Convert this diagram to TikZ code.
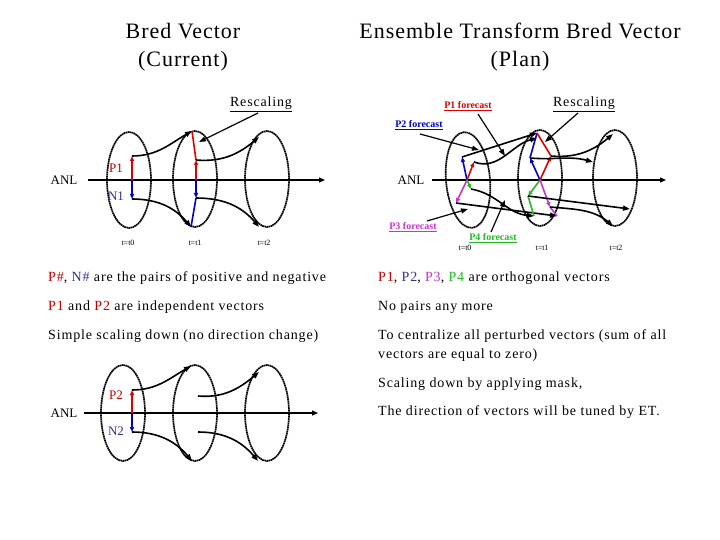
\documentclass[tikz,border=0pt]{standalone}
\usepackage{fontspec}
\setmainfont{Liberation Serif}
\newfontfamily\spaced[LetterSpace=6]{Liberation Serif}
\newfontfamily\spacedt[LetterSpace=4.5]{Liberation Serif}
\usetikzlibrary{shapes.geometric,arrows.meta}
\definecolor{pr}{HTML}{C00000}
\definecolor{pb}{HTML}{333399}
\definecolor{vr}{HTML}{E00000}
\definecolor{vb}{HTML}{0000CC}
\definecolor{vm}{HTML}{CC33CC}
\definecolor{vg}{HTML}{22BB22}
\begin{document}
\begin{tikzpicture}[x=1pt,y=-1pt,
 ell/.style={draw,ellipse,line width=1.7pt,dash pattern=on 1.6pt off 0.5pt,minimum width=44pt,minimum height=96pt,inner sep=0},
 axis/.style={line width=1.3pt,-{Triangle[length=6pt,width=5pt]}},
 traj/.style={line width=1.6pt,-{Triangle[length=7pt,width=5pt]}},
 vec/.style={line width=1.6pt,-{Triangle[length=5pt,width=4pt]}},
 lab/.style={font=\fontsize{13}{15}\selectfont,inner sep=0},
 small/.style={font=\fontsize{8}{9}\selectfont,inner sep=0},
 title/.style={font=\spacedt\fontsize{22}{25}\selectfont,inner sep=0},
 body/.style={font=\spaced\fontsize{14}{19}\selectfont,inner sep=0,anchor=west,align=left},
 fc/.style={font=\bfseries\fontsize{10}{12}\selectfont,inner sep=1pt},
 call/.style={line width=1.2pt,-{Triangle[length=7pt,width=5pt]}}]
\useasboundingbox (0,0) rectangle (720,540);
% titles
\node[title] (t1a) at (183,31) {Bred Vector};
\node[title] (t1b) at (183,61) {(Current)};
\node[title] (t2a) at (520,31) {Ensemble Transform Bred Vector};
\node[title] (t2b) at (520,61) {(Plan)};
% ---------- left diagram
\node[ell] (e1) at (129,180) {};
\node[ell] (e2) at (195,179) {};
\node[ell] (e3) at (267,179) {};
\node[lab] (anl1) at (64,180) {ANL};
\coordinate (ax1s) at (88,180); \coordinate (ax1e) at (325,180);
\draw[axis] (ax1s) -- (ax1e);
\coordinate (o1) at (132,180); \coordinate (p1) at (132,156); \coordinate (n1) at (132,199);
\draw[vec,vr] (o1) -- (p1); \draw[vec,vb] (o1) -- (n1);
\node[lab,pr] (lp1) at (116,168) {P1};
\node[lab,pb] (ln1) at (116,196) {N1};
\coordinate (q1) at (192,131); \coordinate (m1) at (191,227);
\draw[traj] (p1) to[out=0,in=-150] (q1);
\draw[traj] (n1) to[out=0,in=130] (m1);
\coordinate (o2) at (196,180); \coordinate (p2) at (196,160); \coordinate (n2) at (196,198);
\draw[line width=1.6pt,vr] (q1) -- (p2);
\draw[line width=1.6pt,vb] (m1) -- (n2);
\draw[vec,vr] (o2) -- (p2); \draw[vec,vb] (o2) -- (n2);
\coordinate (q2) at (259,137); \coordinate (m2) at (259,227);
\draw[traj] (p2) to[out=-5,in=-140] (q2);
\draw[traj] (n2) to[out=0,in=130] (m2);
\node[lab,font=\spaced\fontsize{14}{16}\selectfont] (rs1) at (261,104) {\underline{Rescaling}};
\coordinate (rs1t) at (199,142);
\draw[call] (258,113) -- (rs1t);
\node[small] (tt0) at (128,243) {t=t0};
\node[small] (tt1) at (195,243) {t=t1};
\node[small] (tt2) at (264,243) {t=t2};
% ---------- right diagram
\node[ell,rotate=5] (f1) at (468,180) {};
\node[ell] (f2) at (540,178) {};
\node[ell] (f3) at (615,178) {};
\node[lab] (anl2) at (411,180) {ANL};
\coordinate (ax2s) at (432,180); \coordinate (ax2e) at (666,180);
\draw[axis] (ax2s) -- (ax2e);
\coordinate (r0) at (467,180);
\coordinate (rb) at (462,157); \coordinate (rr) at (474,162);
\coordinate (rm) at (456,203); \coordinate (rg) at (471,189);
\draw[vec,vb] (r0) -- (rb); \draw[vec,vr] (r0) -- (rr);
\draw[vec,vm] (r0) -- (rm); \draw[vec,vg] (r0) -- (rg);
% forecasts t0->t1
\coordinate (fb) at (537,133); \coordinate (fr) at (537,138);
\coordinate (fm) at (557,216); \coordinate (fgp) at (534,216);
\draw[traj] (rb) -- (fb);
\draw[traj] (rr) to[out=-20,in=-165] (fr);
\draw[traj] (rm) -- (fm);
\draw[traj] (rg) to[out=-10,in=175] (fgp);
\coordinate (s0) at (540,180);
\coordinate (sb) at (530,158); \coordinate (sr) at (551,156);
\coordinate (sg) at (528,196); \coordinate (sm) at (550,207);
\draw[line width=1.6pt,vb] (fb) -- (sb);
\draw[line width=1.6pt,vr] (fb) -- (sr);
\draw[line width=1.6pt,vg] (fgp) -- (sg);
\draw[line width=1.6pt,vm] (fm) -- (sm);
\draw[vec,vb] (s0) -- (sb); \draw[vec,vr] (s0) -- (sr);
\draw[vec,vg] (s0) -- (sg); \draw[vec,vm] (s0) -- (sm);
% t1->t2
\coordinate (gb) at (593,162); \coordinate (gr) at (613,134);
\coordinate (gg) at (630,209); \coordinate (gm) at (613,226);
\draw[traj] (sb) to[out=-5,in=165] (gb);
\draw[traj] (sr) to[out=-5,in=-140] (gr);
\draw[traj] (sg) -- (gg);
\draw[traj] (sm) to[out=-5,in=140] (gm);
% callouts
\node[fc,vr] (lf1) at (468,106) {\underline{P1 forecast}};
\node[fc,vb] (lf2) at (419,125) {\underline{P2 forecast}};
\node[fc,vm] (lf3) at (413,227) {\underline{P3 forecast}};
\node[fc,vg] (lf4) at (493,238) {\underline{P4 forecast}};
\coordinate (c1) at (505,156); \coordinate (c2) at (479,150);
\coordinate (c3) at (468,209); \coordinate (c4) at (505,200);
\draw[call] (478,114) -- (c1);
\draw[call] (420,134) -- (c2);
\draw[call] (427,221) -- (c3);
\draw[call] (491,232) -- (c4);
\node[lab,font=\spaced\fontsize{14}{16}\selectfont] (rs2) at (584,104) {\underline{Rescaling}};
\coordinate (rs2t) at (545,142);
\draw[call] (578,113) -- (rs2t);
\node[small] (ut0) at (465,248) {t=t0};
\node[small] (ut1) at (542,248) {t=t1};
\node[small] (ut2) at (616,248) {t=t2};
% ---------- texts
\node[body] (b1) at (48,278) {\textcolor{pr}{P\#}, \textcolor{pb}{N\#} are the pairs of positive and negative};
\node[body] (b2) at (48,307) {\textcolor{pr}{P1} and \textcolor{pr}{P2} are independent vectors};
\node[body] (b3) at (48,336) {Simple scaling down (no direction change)};
\node[body] (c1t) at (378,278) {\textcolor{pr}{P1}, \textcolor{pb}{P2}, \textcolor{vm}{P3}, \textcolor{vg}{P4} are orthogonal vectors};
\node[body] (c2t) at (378,307) {No pairs any more};
\node[body] (c3t) at (378,345.5) {To centralize all perturbed vectors (sum of all\\vectors are equal to zero)};
\node[body] (c4t) at (378,384) {Scaling down by applying mask,};
\node[body] (c5t) at (378,412) {The direction of vectors will be tuned by ET.};
% ---------- bottom-left diagram
\node[ell] (h1) at (123,413) {};
\node[ell] (h2) at (195,413) {};
\node[ell] (h3) at (267,413) {};
\node[lab] (anl3) at (64,413) {ANL};
\coordinate (ax3s) at (84,413); \coordinate (ax3e) at (318,413);
\draw[axis] (ax3s) -- (ax3e);
\coordinate (w0) at (132,413); \coordinate (wp) at (132,390); \coordinate (wn) at (132,432);
\draw[vec,vr] (w0) -- (wp); \draw[vec,vb] (w0) -- (wn);
\node[lab,pr] (lp2) at (116,395) {P2};
\node[lab,pb] (ln2) at (116,431) {N2};
\coordinate (wq) at (191,366); \coordinate (wm) at (192,461);
\draw[traj] (wp) to[out=0,in=-150] (wq);
\draw[traj] (wn) to[out=0,in=130] (wm);
\coordinate (wp2) at (198,396); \coordinate (wn2) at (198,432);
\coordinate (wq2) at (259,372); \coordinate (wm2) at (258,461);
\draw[traj] (wp2) to[out=-5,in=-140] (wq2);
\draw[traj] (wn2) to[out=0,in=130] (wm2);
\end{tikzpicture}
\end{document}
